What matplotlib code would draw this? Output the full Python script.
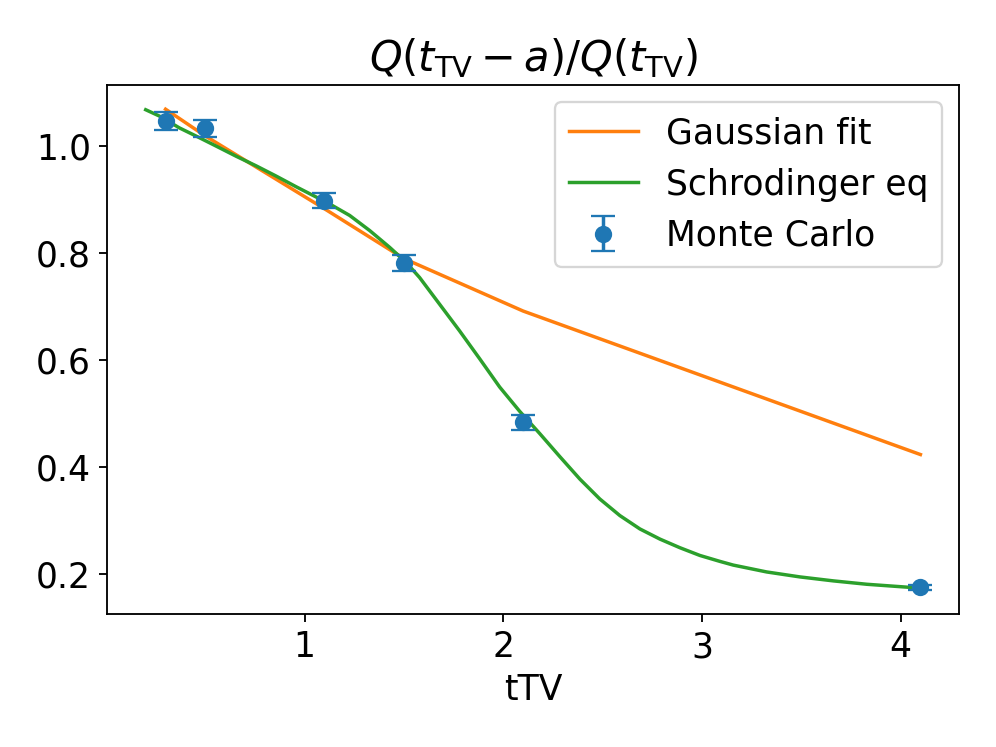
import matplotlib
matplotlib.use("Agg")
import matplotlib.pyplot as plt

# Monte Carlo data
mc_x = [0.3, 0.5, 1.1, 1.5, 2.1, 4.1]
mc_y = [1.047, 1.033, 0.898, 0.781, 0.484, 0.176]
mc_err = [0.017, 0.016, 0.014, 0.015, 0.014, 0.005]

# Gaussian fit
gauss_x = [0.3, 0.5, 1.1, 1.5, 2.1, 4.1]
gauss_y = [1.069, 1.019, 0.883, 0.790, 0.692, 0.424]

# Schrodinger equation curve
schr_x = [0.2, 0.27, 0.37, 0.455, 0.555, 0.656, 0.757, 0.857, 0.958, 1.058, 1.126,
          1.227, 1.327, 1.428, 1.512, 1.579, 1.679, 1.780, 1.881, 1.982, 2.082,
          2.184, 2.285, 2.386, 2.486, 2.587, 2.688, 2.789, 2.889, 2.99, 3.09,
          3.158, 3.326, 3.494, 3.662, 3.83, 4.1]
schr_y = [1.068, 1.056, 1.034, 1.0186, 1.0, 0.981, 0.963, 0.944, 0.924, 0.905, 0.892,
          0.8705, 0.8425, 0.811, 0.7825, 0.7545, 0.705, 0.655, 0.603, 0.550, 0.505,
          0.463, 0.420, 0.378, 0.341, 0.310, 0.285, 0.266, 0.250, 0.2355, 0.2245,
          0.2175, 0.2047, 0.1954, 0.188, 0.1817, 0.1745]

plt.rcParams['font.size'] = 15

fig, ax = plt.subplots(figsize=(6, 4.5), dpi=166)
fig.subplots_adjust(left=0.1074, right=0.963, top=0.886, bottom=0.178)

ax.plot(gauss_x, gauss_y, color='C1', label='Gaussian fit')
ax.plot(schr_x, schr_y, color='C2', label='Schrodinger eq')
ax.errorbar(mc_x, mc_y, yerr=mc_err, fmt='o', color='C0', capsize=5, markersize=6.5,
            label='Monte Carlo')

ax.set_title(r'$Q(t_{\rm TV}-a)/Q(t_{\rm TV})$')
ax.set_xlabel('tTV')
ax.legend(loc='upper right')

fig.savefig('out.png', dpi=166)
